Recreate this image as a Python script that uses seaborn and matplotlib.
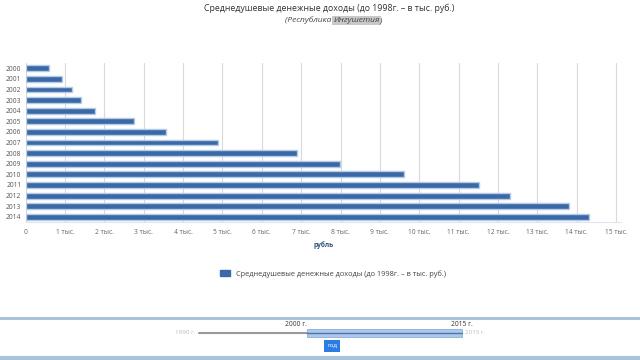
import numpy as np
import pandas as pd
import matplotlib
matplotlib.use("Agg")
import matplotlib.pyplot as plt
import matplotlib.patches as mpatches
import seaborn as sns

years = ["2000", "2001", "2002", "2003", "2004", "2005", "2006", "2007",
         "2008", "2009", "2010", "2011", "2012", "2013", "2014"]
income = [0.60, 0.92, 1.17, 1.40, 1.76, 2.75, 3.56, 4.88,
          6.89, 7.98, 9.60, 11.53, 12.30, 13.80, 14.31]
xticks = list(range(0, 16))
xtick_labels = ["0"] + [f"{i} тыс." for i in range(1, 16)]
title = "Среднедушевые денежные доходы (до 1998г. – в тыс. руб.)"
series_name = "Среднедушевые денежные доходы (до 1998г. – в тыс. руб.)"

df = pd.DataFrame({"year": years, "income": income})

sns.set_style("white")
plt.rcParams["font.family"] = ["Open Sans", "DejaVu Sans"]

fig = plt.figure(figsize=(6.4, 3.6), dpi=100)
ax = fig.add_axes([0.040, 0.383, 0.930, 0.442])

bar_col = "#3b68a6"
sns.barplot(data=df, x="income", y="year", orient="h", color=bar_col,
            width=0.55, edgecolor="#b4cbe8", linewidth=1.0, saturation=1,
            ax=ax, zorder=3)

ax.set_xlim(0, 15.12)
ax.set_xticks(xticks)
ax.set_xticklabels(xtick_labels, fontsize=4.8, color="#666666")
ax.tick_params(axis="y", labelsize=4.8, labelcolor="#555555", length=0, pad=3)
ax.tick_params(axis="x", length=0, pad=5)
ax.grid(axis="x", color="#d9d9d9", linewidth=0.8, zorder=0)
ax.set_axisbelow(True)
for s in ["top", "right", "left"]:
    ax.spines[s].set_visible(False)
ax.spines["bottom"].set_color("#dde6f0")
ax.spines["bottom"].set_linewidth(0.8)
ax.set_ylabel("")
ax.set_xlabel("рубль", fontsize=4.8, color="#2f4f7a", fontweight="bold", labelpad=4)

# title and subtitle
fig.text(0.515, 0.977, title, ha="center", va="center", fontsize=6.3, color="#333333")
t1 = fig.text(0.445, 0.944, "(Республика ", ha="left", va="center",
              fontsize=6.0, style="italic", color="#444444")
t2 = ax.annotate("Ингушетия", xy=(1, 0), xycoords=t1, va="bottom", ha="left",
                 fontsize=6.0, style="italic", color="#444444",
                 bbox=dict(boxstyle="square,pad=0.1", fc="#c8c8c8", ec="none"))
ax.annotate(")", xy=(1, 0), xycoords=t2, va="bottom", ha="left",
            fontsize=6.0, style="italic", color="#444444")

# legend
handle = mpatches.Patch(color=bar_col, label=series_name)
fig.legend(handles=[handle], loc="center", bbox_to_anchor=(0.52, 0.24),
           frameon=False, fontsize=5.3, handlelength=1.4, handleheight=1.0,
           labelcolor="#444444")

# range slider at the bottom
fig.add_artist(plt.Line2D([0, 1], [1 - 318 / 360] * 2, color="#a9c3d8", lw=2.2))
fig.add_artist(plt.Line2D([0, 1], [1 - 358 / 360] * 2, color="#a9c3d8", lw=3))
y_tr = 1 - 333 / 360
x0, x1 = 199 / 640, 462 / 640
fig.add_artist(plt.Line2D([x0, 307 / 640], [y_tr] * 2, color="#999999", lw=1.5))
fig.add_artist(mpatches.Rectangle((307 / 640, y_tr - 0.012), (x1 - 307 / 640), 0.024,
                                  transform=fig.transFigure, fc="#adc8ea", ec="#8aaedc", lw=0.6))
fig.add_artist(plt.Line2D([307 / 640, x1], [y_tr] * 2, color="#4a77b4", lw=1))
fig.text(x0 - 0.005, y_tr, "1990 г.", ha="right", va="center", fontsize=4.5, color="#bbbbbb")
fig.text(x1 + 0.005, y_tr, "2015 г.", ha="left", va="center", fontsize=4.5, color="#bbbbbb")
fig.text(307 / 640, 1 - 325 / 360, "2000 г.", ha="right", va="center", fontsize=4.8, color="#333333")
fig.text(x1, 1 - 325 / 360, "2015 г.", ha="center", va="center", fontsize=4.8, color="#333333")
fig.text(332 / 640, 1 - 346 / 360, "год", ha="center", va="center", fontsize=4.5,
         color="white", bbox=dict(boxstyle="square,pad=0.5", fc="#2a7de1", ec="none"))

fig.savefig("out.png", dpi=100)
